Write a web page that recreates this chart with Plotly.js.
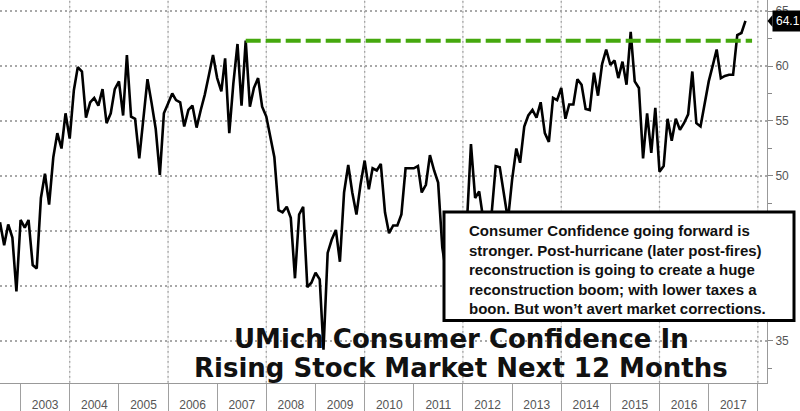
<!DOCTYPE html>
<html>
<head>
<meta charset="utf-8">
<script src="https://cdn.plot.ly/plotly-3.0.1.min.js"></script>
<style>
  html, body { margin: 0; padding: 0; background: #ffffff; }
  #chart { width: 800px; height: 411px; }
</style>
</head>
<body>
<div id="chart"></div>
<script>
// ---- DATA (monthly, first value = Aug 2002) ----
const firstYear = 2002;
const firstMonth = 8;
const v2002 = [45.8, 43.7, 45.6, 44.4, 39.5];
const v2003 = [46.0, 45.3, 46.0, 41.9, 41.6, 48.0, 50.2, 47.4, 51.7, 53.9, 52.5, 55.7];
const v2004 = [53.4, 57.8, 59.9, 59.5, 55.3, 56.7, 57.1, 56.4, 57.9, 54.8, 55.7, 57.9];
const v2005 = [58.6, 55.5, 61.0, 55.4, 55.2, 51.6, 55.5, 58.8, 56.6, 54.3, 50.1, 55.7];
const v2006 = [56.6, 57.5, 56.9, 56.7, 54.5, 56.0, 56.4, 54.4, 56.0, 57.4, 59.2, 61.0];
const v2007 = [58.9, 57.7, 60.7, 53.9, 58.4, 62.0, 56.4, 62.3, 56.3, 58.0, 58.9, 56.3];
const v2008 = [55.4, 53.5, 51.7, 46.9, 46.7, 47.2, 46.2, 40.7, 46.5, 47.2, 39.9, 40.3];
const v2009 = [41.2, 40.6, 34.2, 43.0, 44.2, 45.1, 42.2, 48.5, 51.0, 48.5, 46.5, 49.2];
const v2010 = [51.4, 48.8, 50.7, 50.5, 51.1, 46.7, 44.8, 45.5, 45.5, 46.5, 50.7, 50.7];
const v2011 = [50.7, 50.9, 48.5, 49.2, 51.9, 50.5, 49.4, 43.5, 41.0, 41.5, 43.0, 44.0];
const v2012 = [45.5, 46.0, 52.9, 48.0, 48.6, 46.0, 45.0, 46.5, 50.9, 50.8, 48.5, 46.0];
const v2013 = [49.7, 52.5, 51.2, 54.5, 55.5, 56.0, 55.3, 56.7, 53.9, 53.1, 57.1, 56.9];
const v2014 = [58.0, 55.2, 56.5, 56.5, 58.8, 58.3, 56.1, 56.0, 59.4, 57.3, 60.2, 61.5];
const v2015 = [60.1, 60.5, 58.9, 60.4, 58.3, 63.1, 58.6, 58.0, 51.6, 55.7, 52.1, 56.2];
const v2016 = [50.4, 50.9, 55.2, 53.2, 55.2, 54.2, 54.8, 55.6, 59.5, 54.8, 54.5, 56.5];
const v2017 = [58.6, 60.1, 61.5, 58.9, 59.1, 59.2, 59.2, 62.8, 63.0, 64.1];

const prevPeakValue = 62.3;
const prevPeakStart = '2007-08-01';
const prevPeakEnd = '2017-11-19';

const gridYears = [2004, 2006, 2008, 2010, 2012, 2014, 2016, 2018];

const chartTitle1 = 'UMich Consumer Confidence In';
const chartTitle2 = 'Rising Stock Market Next 12 Months';
const noteLines = [
  'Consumer Confidence going forward is',
  'stronger. Post-hurricane (later post-fires)',
  'reconstruction is going to create a huge',
  'reconstruction boom; with lower taxes a',
  'boon. But won\u2019t avert market corrections.'
];

// ---- build series ----
const values = [].concat(v2002, v2003, v2004, v2005, v2006, v2007, v2008, v2009,
                         v2010, v2011, v2012, v2013, v2014, v2015, v2016, v2017);
const dates = values.map((_, i) => {
  const m = firstMonth - 1 + i;
  const y = firstYear + Math.floor(m / 12);
  const mm = (m % 12) + 1;
  return y + '-' + String(mm).padStart(2, '0') + '-01';
});
const lastValue = values[values.length - 1];

const xRange = ['2002-08-01', '2018-03-10'];
const yRange = [31.18, 66];

const tickFont = { family: 'Liberation Sans Narrow, Arial Narrow, Liberation Sans, Arial', size: 12, color: '#555555' };

const traces = [
  {
    x: dates, y: values, type: 'scatter', mode: 'lines',
    line: { color: '#000000', width: 2.6 },
    hoverinfo: 'skip', showlegend: false
  },
  {
    x: [prevPeakStart, prevPeakEnd], y: [prevPeakValue, prevPeakValue],
    type: 'scatter', mode: 'lines',
    line: { color: '#45a80e', width: 4, dash: '15px,5px' },
    hoverinfo: 'skip', showlegend: false
  },
  { x: dates, y: values, xaxis: 'x2', type: 'scatter', mode: 'lines', opacity: 0, hoverinfo: 'skip', showlegend: false },
  { x: dates, y: values, xaxis: 'x3', type: 'scatter', mode: 'lines', opacity: 0, hoverinfo: 'skip', showlegend: false }
];

// paper helpers (plot area: 767 x 383 px)
const PW = 767, PH = 383;
const px = v => v / PW;
const py = v => 1 - v / PH;
const yPaper = val => (val - yRange[0]) / (yRange[1] - yRange[0]);
const lastYP = yPaper(lastValue);

// vertical gridlines every two years: faint base line plus dotted segments on top
const gridShapes = [];
gridYears.forEach(yr => {
  const xd = yr + '-01-01';
  gridShapes.push({
    type: 'line', xref: 'x', yref: 'paper', x0: xd, x1: xd, y0: 0, y1: 1,
    line: { color: '#e2e2e2', width: 1 }, layer: 'below'
  });
  for (let p = 1; p < PH; p += 5) {
    gridShapes.push({
      type: 'line', xref: 'x', yref: 'paper', x0: xd, x1: xd,
      y0: 1 - p / PH, y1: 1 - (p + 1.8) / PH,
      line: { color: '#a4a4a4', width: 1.3 }, layer: 'below'
    });
  }
});

const layout = {
  width: 800, height: 411,
  margin: { l: 0, r: 800 - PW, t: 0, b: 411 - PH, pad: 0 },
  paper_bgcolor: '#ffffff', plot_bgcolor: '#ffffff',
  showlegend: false,
  xaxis: {
    type: 'date', range: xRange,
    showgrid: false, showticklabels: false, ticks: '',
    showline: true, linecolor: '#999999', linewidth: 1,
    zeroline: false, fixedrange: true
  },
  xaxis2: {
    type: 'date', range: xRange, overlaying: 'x', anchor: 'y', side: 'bottom',
    dtick: 'M12', tick0: '2003-01-01', ticklabelmode: 'period', tickformat: '%Y',
    showgrid: false, ticks: '', showline: false, zeroline: false,
    ticklabelstandoff: 13,
    tickfont: tickFont
  },
  xaxis3: {
    type: 'date', range: xRange, overlaying: 'x', anchor: 'y', side: 'bottom',
    dtick: 'M12', tick0: '2003-01-01',
    showgrid: false, showticklabels: false,
    ticks: 'outside', ticklen: 28, tickcolor: '#a0a0a0', tickwidth: 1,
    showline: false, zeroline: false
  },
  yaxis: {
    range: yRange, side: 'right',
    dtick: 5, tick0: 35,
    showgrid: true, gridcolor: '#a8a8a8', gridwidth: 1.2, griddash: '1.5px,3.5px',
    ticks: 'outside', ticklen: 5, tickcolor: '#888888', tickwidth: 1,
    minor: { dtick: 2.5, tick0: 35, ticks: 'outside', ticklen: 4, tickcolor: '#888888', showgrid: false },
    showline: true, linecolor: '#999999', linewidth: 1,
    zeroline: false, tickfont: tickFont, fixedrange: true
  },
  shapes: gridShapes.concat([
    {
      type: 'rect', xref: 'paper', yref: 'paper',
      x0: px(444), x1: px(794), y0: py(320.5), y1: py(212),
      fillcolor: '#ffffff', line: { color: '#000000', width: 3 }, layer: 'above'
    },
    {
      type: 'path', xref: 'paper', yref: 'paper',
      path: 'M ' + px(767.5) + ' ' + lastYP +
            ' L ' + px(772.5) + ' ' + (lastYP + 6 / PH) +
            ' L ' + px(772.5) + ' ' + (lastYP - 6 / PH) + ' Z',
      fillcolor: '#000000', line: { width: 0 }, layer: 'above'
    }
  ]),
  annotations: [
    {
      xref: 'paper', yref: 'paper', x: px(466.5), y: py(269.5),
      xanchor: 'left', yanchor: 'middle', align: 'left', showarrow: false,
      text: noteLines.join('<br>'),
      font: { family: 'Liberation Sans, Arial', size: 15, color: '#111111', weight: 700 }
    },
    {
      xref: 'paper', yref: 'paper', x: px(461), y: py(339),
      xanchor: 'center', yanchor: 'middle', showarrow: false,
      text: chartTitle1,
      font: { family: 'DejaVu Sans, Verdana', size: 26, color: '#111111', weight: 700 }
    },
    {
      xref: 'paper', yref: 'paper', x: px(461), y: py(367.5),
      xanchor: 'center', yanchor: 'middle', showarrow: false,
      text: chartTitle2,
      font: { family: 'DejaVu Sans, Verdana', size: 26, color: '#111111', weight: 700 }
    },
    {
      xref: 'paper', yref: 'y', x: px(772), y: lastValue,
      xanchor: 'left', yanchor: 'middle', showarrow: false,
      text: lastValue.toFixed(1),
      bgcolor: '#000000', borderpad: 3,
      font: { family: 'Liberation Sans, Arial', size: 12, color: '#ffffff' }
    }
  ]
};

Plotly.newPlot('chart', traces, layout, { displayModeBar: false, staticPlot: true });
</script>
</body>
</html>
